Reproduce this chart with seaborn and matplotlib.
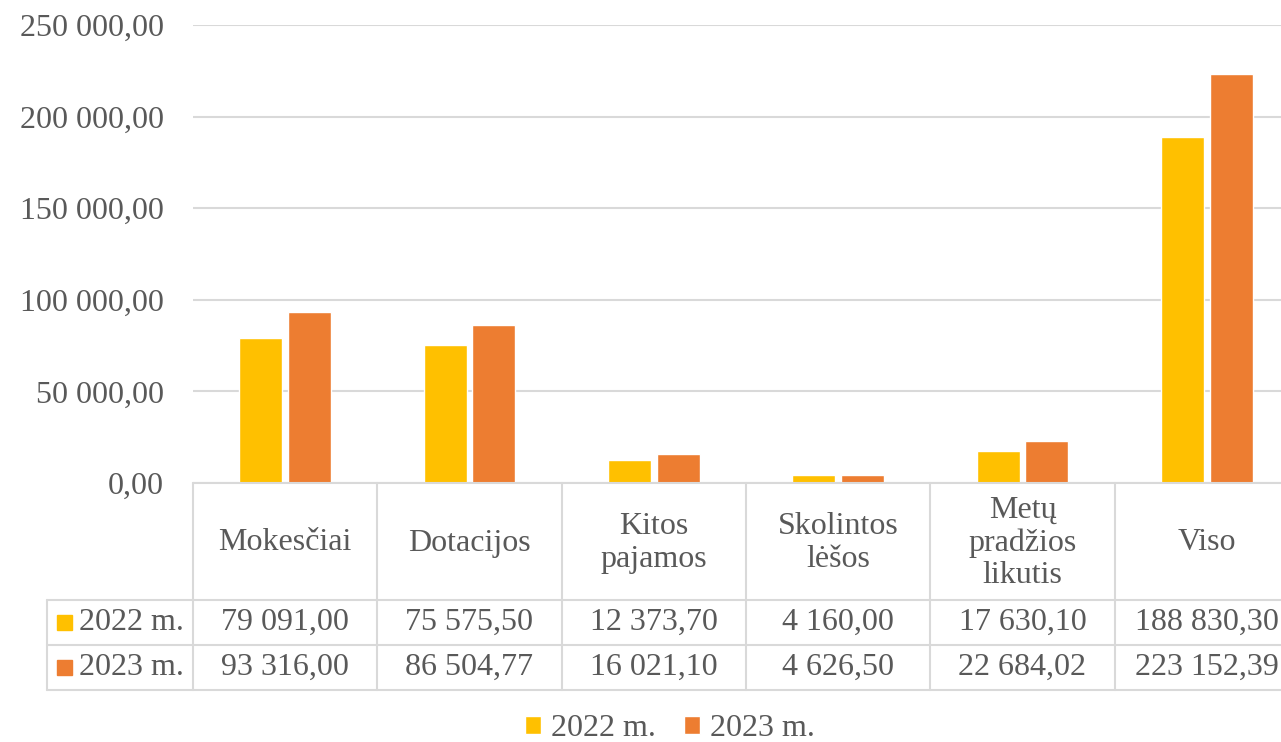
import pandas as pd
import matplotlib.pyplot as plt
import matplotlib.transforms as mtransforms
from matplotlib.patches import Rectangle
import seaborn as sns

# data
categories = ['Mokesčiai', 'Dotacijos', 'Kitos\npajamos', 'Skolintos\nlėšos',
              'Metų\npradžios\nlikutis', 'Viso']
years = ['2022 m.', '2023 m.']
values_2022 = [79091.00, 75575.50, 12373.70, 4160.00, 17630.10, 188830.30]
values_2023 = [93316.00, 86504.77, 16021.10, 4626.50, 22684.02, 223152.39]
colors = ['#FFC000', '#ED7D31']

df = pd.DataFrame({
    'category': categories * 2,
    'year': [years[0]] * 6 + [years[1]] * 6,
    'value': values_2022 + values_2023,
})

def fmt(v):
    return f"{v:,.2f}".replace(',', ' ').replace('.', ',')

sns.set_style('white')
plt.rcParams['font.family'] = ['Liberation Serif', 'DejaVu Serif']
TXT = '#595959'
GRID = '#D9D9D9'
FS = 23

W, H = 1281, 742
fig = plt.figure(figsize=(W / 100, H / 100), dpi=100)

def fy(px):
    return 1 - px / H

ax = fig.add_axes([193 / W, fy(483), (1299 - 193) / W, fy(25) - fy(483)])
sns.barplot(data=df, x='category', y='value', hue='year', palette=colors,
            width=0.53, gap=0.12, ax=ax, saturation=1)
ax.set_xlim(-0.5, 5.5)
ax.set_ylim(0, 250000)
ax.set_yticks(range(0, 250001, 50000))
ax.set_yticklabels([fmt(t) for t in range(0, 250001, 50000)], fontsize=FS, color=TXT)
ax.tick_params(axis='y', length=0, pad=21)
ax.set_xticks([])
ax.set_xlabel('')
ax.set_ylabel('')
ax.grid(axis='y', color=GRID, linewidth=1.5)
ax.set_axisbelow(True)
for s in ax.spines.values():
    s.set_visible(False)
handles, labels = ax.get_legend_handles_labels()
ax.get_legend().remove()

# data table under the axis
tr = mtransforms.blended_transform_factory(ax.transData, fig.transFigure)
y_top, y_r1, y_r2, y_bot = fy(483), fy(600), fy(645), fy(690)
lk = dict(color=GRID, linewidth=1.5, clip_on=False)
for i in range(7):
    ax.plot([i - 0.5, i - 0.5], [y_top, y_bot], transform=tr, **lk)
ax.plot([-0.5, 5.5], [y_top, y_top], transform=tr, **lk)
for yy in [y_r1, y_r2, y_bot]:
    fig.add_artist(plt.Line2D([47 / W, 1], [yy, yy], color=GRID, linewidth=1.5))
fig.add_artist(plt.Line2D([47 / W, 47 / W], [y_r1, y_bot], color=GRID, linewidth=1.5))

for i, cat in enumerate(categories):
    ax.text(i, fy(543), cat, transform=tr, ha='center', va='center',
            fontsize=FS, color=TXT, linespacing=1.15, clip_on=False)
    ax.text(i, (y_r1 + y_r2) / 2, fmt(values_2022[i]), transform=tr, ha='center',
            va='center', fontsize=FS, color=TXT, clip_on=False)
    ax.text(i, (y_r2 + y_bot) / 2, fmt(values_2023[i]), transform=tr, ha='center',
            va='center', fontsize=FS, color=TXT, clip_on=False)

for yr, c, (ya, yb) in zip(years, colors, [(y_r1, y_r2), (y_r2, y_bot)]):
    yc = (ya + yb) / 2
    fig.add_artist(Rectangle((57 / W, yc - 7.5 / H), 15 / W, 15 / H,
                             transform=fig.transFigure, color=c))
    fig.text(79 / W, yc, yr, ha='left', va='center', fontsize=FS, color=TXT)

fig.legend(handles, labels, loc='center', bbox_to_anchor=(670 / W, fy(729)),
           ncol=2, frameon=False, fontsize=FS, labelcolor=TXT,
           handlelength=0.5, handleheight=0.5, handletextpad=0.3,
           columnspacing=0.9)

fig.savefig('out.png', dpi=100)
